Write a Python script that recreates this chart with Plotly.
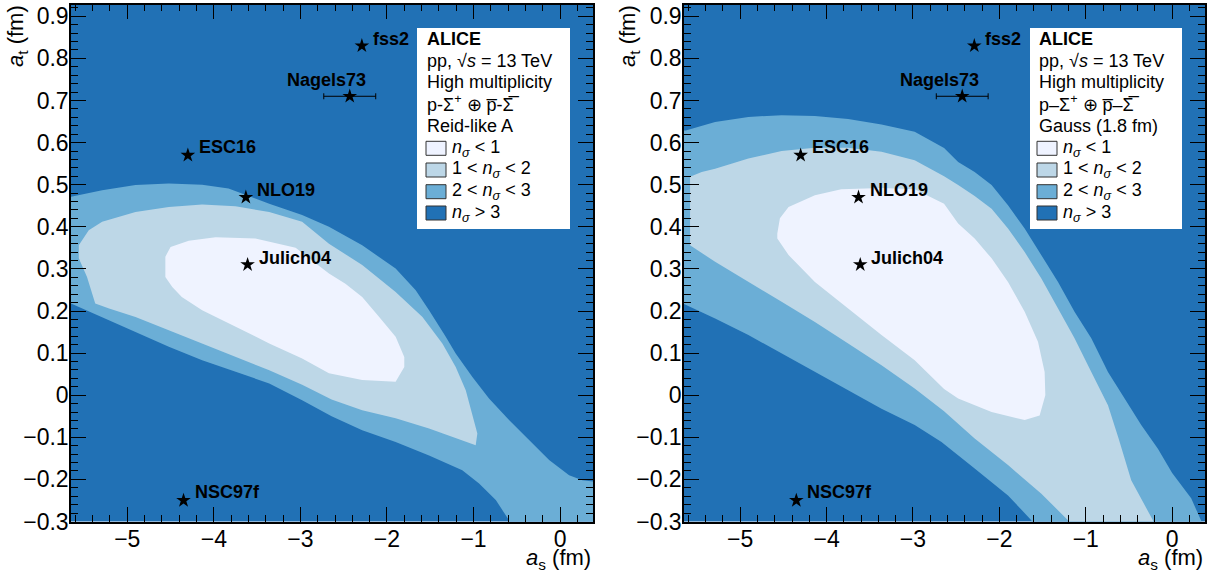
import plotly.graph_objects as go

# ---------------- data ----------------
model_names = ["fss2", "Nagels73", "ESC16", "NLO19", "Julich04", "NSC97f"]
model_as = [-2.29, -2.43, -4.30, -3.63, -3.61, -4.35]
model_at = [0.83, 0.71, 0.57, 0.47, 0.31, -0.25]
model_as_err = [0.0, 0.30, 0.0, 0.0, 0.0, 0.0]

# Reid-like A  (left panel) contour boundaries (a_s, a_t)
reid_n3_as = [-6.0, -5.66, -5.29, -4.905, -4.52, -4.135, -3.83, -3.63, -3.36, -2.98, -2.67, -2.286, -1.90,
              -1.668, -1.514, -1.321, -1.206, -1.013, -0.821, -0.590, -0.358, -0.127, 0.104, 0.258, 0.6,
              0.6, -0.55, -0.59, -0.743, -0.936, -1.13, -1.514, -1.90, -2.286, -2.64, -2.98, -3.36, -3.75,
              -4.135, -4.52, -4.905, -5.29, -5.66, -6.0]
reid_n3_at = [0.46, 0.471, 0.487, 0.499, 0.503, 0.500, 0.491, 0.475, 0.455, 0.428, 0.400, 0.356, 0.301,
              0.249, 0.202, 0.139, 0.099, 0.043, -0.008, -0.059, -0.107, -0.154, -0.190, -0.202, -0.21,
              -0.4, -0.4, -0.297, -0.249, -0.210, -0.178, -0.143, -0.111, -0.083, -0.05, -0.012, 0.028, 0.055,
              0.083, 0.115, 0.150, 0.186, 0.218, 0.25]
reid_n2_as = [-5.56, -5.56, -5.445, -5.29, -4.905, -4.52, -4.135, -3.75, -3.36, -2.98, -2.67, -2.286, -1.90,
              -1.59, -1.36, -1.206, -1.09, -1.013, -0.956, -0.975, -1.13, -1.514, -1.90, -2.286, -2.64,
              -2.98, -3.36, -3.75, -4.135, -4.52, -4.905, -5.21, -5.37, -5.465]
reid_n2_at = [0.325, 0.356, 0.392, 0.412, 0.435, 0.447, 0.453, 0.449, 0.435, 0.412, 0.360, 0.309, 0.245,
              0.186, 0.123, 0.067, 0.012, -0.044, -0.091, -0.119, -0.108, -0.079, -0.055, -0.036, -0.01,
              0.025, 0.059, 0.091, 0.123, 0.154, 0.186, 0.206, 0.218, 0.281]
reid_n1_as = [-4.56, -4.56, -4.50, -4.29, -3.98, -3.52, -3.055, -2.67, -2.48, -2.286, -2.09, -1.90, -1.80,
              -1.80, -1.90, -2.286, -2.67, -2.98, -3.36, -3.75, -4.135, -4.37, -4.48]
reid_n1_at = [0.281, 0.329, 0.352, 0.367, 0.375, 0.372, 0.350, 0.289, 0.265, 0.233, 0.186, 0.139, 0.091,
              0.067, 0.032, 0.036, 0.052, 0.087, 0.123, 0.162, 0.202, 0.233, 0.257]

# Gauss (1.8 fm)  (right panel) contour boundaries
gauss_n3_as = [-6.0, -5.63, -5.29, -4.905, -4.52, -4.135, -3.75, -3.364, -2.98, -2.64, -2.477, -2.286, -2.09,
               -1.90, -1.707, -1.514, -1.321, -1.13, -0.936, -0.743, -0.551, -0.358, -0.165, 0.0, 0.22, 0.34,
               0.4, -1.6, -1.63, -1.90, -2.286, -2.67, -2.98, -3.364, -3.75, -4.135, -4.52, -4.905, -5.29,
               -5.63, -6.0]
gauss_n3_at = [0.62, 0.629, 0.649, 0.661, 0.665, 0.663, 0.656, 0.643, 0.626, 0.587, 0.554, 0.530, 0.499,
               0.451, 0.396, 0.333, 0.269, 0.198, 0.135, 0.055, -0.008, -0.071, -0.127, -0.185, -0.245, -0.30,
               -0.4, -0.4, -0.297, -0.238, -0.174, -0.111, -0.071, -0.032, 0.012, 0.055, 0.099, 0.143, 0.182,
               0.214, 0.25]
gauss_n2_as = [-5.58, -5.445, -5.29, -4.905, -4.52, -4.135, -3.75, -3.364, -2.98, -2.64, -2.477, -2.286,
               -2.09, -1.90, -1.707, -1.514, -1.321, -1.13, -0.936, -0.743, -0.62, -0.474, -0.223, -0.15,
               -1.1, -1.206, -1.514, -1.90, -2.286, -2.64, -2.98, -3.364, -3.75, -4.135, -4.52, -4.905,
               -5.29, -5.58]
gauss_n2_at = [0.519, 0.530, 0.538, 0.562, 0.580, 0.588, 0.588, 0.578, 0.558, 0.520, 0.499, 0.473,
               0.443, 0.396, 0.340, 0.277, 0.206, 0.135, 0.055, -0.024, -0.103, -0.202, -0.297, -0.4,
               -0.4, -0.297, -0.234, -0.166, -0.103, -0.038, 0.016, 0.071, 0.123, 0.174, 0.222, 0.269,
               0.317, 0.356]
gauss_n1_as = [-4.57, -4.57, -4.54, -4.44, -4.135, -3.83, -3.364, -2.98, -2.64, -2.477, -2.286, -2.09, -1.90,
               -1.707, -1.553, -1.476, -1.468, -1.534, -1.707, -2.09, -2.477, -2.64, -2.98, -3.364, -3.75,
               -4.135, -4.44]
gauss_n1_at = [0.372, 0.384, 0.420, 0.447, 0.475, 0.489, 0.492, 0.489, 0.455, 0.408, 0.372, 0.325, 0.269,
               0.198, 0.127, 0.055, 0.0, -0.048, -0.059, -0.040, -0.008, 0.015, 0.083, 0.143, 0.206,
               0.269, 0.333]

x_tick_vals = [-5, -4, -3, -2, -1, 0]
y_tick_vals = [-0.3, -0.2, -0.1, 0, 0.1, 0.2, 0.3, 0.4, 0.5, 0.6, 0.7, 0.8, 0.9]

legend_labels = ["<i>n</i><sub><i>σ</i></sub> < 1", "1 < <i>n</i><sub><i>σ</i></sub> < 2",
                 "2 < <i>n</i><sub><i>σ</i></sub> < 3", "<i>n</i><sub><i>σ</i></sub> > 3"]
left_header = ["<b>ALICE</b>", "pp, √<i>s</i> = 13 TeV", "High multiplicity",
               "p-Σ<sup>+</sup> ⊕ p\u0305-Σ\u0305", "Reid-like A"]
right_header = ["<b>ALICE</b>", "pp, √<i>s</i> = 13 TeV", "High multiplicity",
                "p–Σ<sup>+</sup> ⊕ p\u0305–Σ\u0305", "Gauss (1.8 fm)"]

# ---------------- style ----------------
C_DARK = "#2171b5"
C_MID = "#6baed6"
C_LIGHT = "#bdd7e7"
C_WHITE = "#eff3ff"
FONT = "Liberation Sans, Arial, sans-serif"
W, H = 1217, 577


def px(x):
    return x / W


def py(y):
    return 1 - y / H


XR = [-5.65, 0.38]
YR = [-0.30, 0.928]
panels = [
    dict(xa="x", ya="y", dom=[px(71), px(593)],
         regions=[(reid_n3_as, reid_n3_at, C_MID), (reid_n2_as, reid_n2_at, C_LIGHT),
                  (reid_n1_as, reid_n1_at, C_WHITE)],
         header=left_header, box=(417, 570), textx=425, swx=426, entx=450, ytitle_x=17),
    dict(xa="x2", ya="y2", dom=[px(684), px(1205)],
         regions=[(gauss_n3_as, gauss_n3_at, C_MID), (gauss_n2_as, gauss_n2_at, C_LIGHT),
                  (gauss_n1_as, gauss_n1_at, C_WHITE)],
         header=right_header, box=(1030, 1182), textx=1037, swx=1037, entx=1061, ytitle_x=629),
]

label_style = {
    "fss2": dict(xanchor="left", xshift=9, yshift=7),
    "Nagels73": dict(xanchor="center", xshift=-23, yshift=16),
    "ESC16": dict(xanchor="left", xshift=9, yshift=8),
    "NLO19": dict(xanchor="left", xshift=9, yshift=7),
    "Julich04": dict(xanchor="left", xshift=9, yshift=7),
    "NSC97f": dict(xanchor="left", xshift=9, yshift=8),
}

fig = go.Figure()
annotations = []
shapes = []

for i, p in enumerate(panels):
    for xs, ys, col in p["regions"]:
        fig.add_trace(go.Scatter(x=xs, y=ys, xaxis=p["xa"], yaxis=p["ya"], mode="lines",
                                 fill="toself", fillcolor=col, line=dict(width=0, color=col),
                                 hoverinfo="skip", showlegend=False))
    idx = [k for k in range(len(model_names)) if model_as_err[k] == 0]
    fig.add_trace(go.Scatter(x=[model_as[k] for k in idx], y=[model_at[k] for k in idx],
                             xaxis=p["xa"], yaxis=p["ya"], mode="markers",
                             marker=dict(symbol="star", size=11, color="black"),
                             hoverinfo="skip", showlegend=False))
    idx_e = [k for k in range(len(model_names)) if model_as_err[k] > 0]
    fig.add_trace(go.Scatter(x=[model_as[k] for k in idx_e], y=[model_at[k] for k in idx_e],
                             xaxis=p["xa"], yaxis=p["ya"], mode="markers",
                             marker=dict(symbol="star", size=11, color="black"),
                             error_x=dict(type="data", array=[model_as_err[k] for k in idx_e],
                                          color="black", thickness=1, width=3),
                             hoverinfo="skip", showlegend=False))
    for k, name in enumerate(model_names):
        st = label_style[name]
        annotations.append(dict(x=model_as[k], y=model_at[k], xref=p["xa"], yref=p["ya"],
                                text="<b>%s</b>" % name, showarrow=False,
                                xanchor=st["xanchor"], yanchor="middle",
                                xshift=st["xshift"], yshift=st["yshift"],
                                font=dict(family=FONT, size=18, color="black")))
    bx0, bx1 = p["box"]
    shapes.append(dict(type="rect", xref="paper", yref="paper", x0=px(bx0), x1=px(bx1),
                       y0=py(229), y1=py(28), fillcolor="white", line=dict(width=0), layer="above"))
    head_y = [39, 60.5, 82, 103.5, 126]
    for t, yy in zip(p["header"], head_y):
        annotations.append(dict(x=px(p["textx"]), y=py(yy), xref="paper", yref="paper", text=t,
                                showarrow=False, xanchor="left", yanchor="middle",
                                font=dict(family=FONT, size=18, color="black")))
    ent_y = [148.3, 170, 191.7, 213]
    for t, yy, col in zip(legend_labels, ent_y, [C_WHITE, C_LIGHT, C_MID, C_DARK]):
        shapes.append(dict(type="rect", xref="paper", yref="paper", x0=px(p["swx"]),
                           x1=px(p["swx"] + 20), y0=py(yy + 7), y1=py(yy - 7), fillcolor=col,
                           line=dict(width=1, color="#333333"), layer="above"))
        annotations.append(dict(x=px(p["entx"]), y=py(yy), xref="paper", yref="paper", text=t,
                                showarrow=False, xanchor="left", yanchor="middle",
                                font=dict(family=FONT, size=18, color="black")))
    annotations.append(dict(x=p["dom"][1], y=py(559), xref="paper", yref="paper",
                            text="<i>a</i><sub>s</sub> (fm)", showarrow=False, xanchor="right",
                            yanchor="middle", font=dict(family=FONT, size=22, color="black")))
    annotations.append(dict(x=px(p["ytitle_x"]), y=py(3), xref="paper", yref="paper",
                            text="<i>a</i><sub>t</sub> (fm)", showarrow=False, textangle=-90,
                            xanchor="center", yanchor="top",
                            font=dict(family=FONT, size=22, color="black")))

axis_common = dict(showgrid=False, zeroline=False, showline=True, linecolor="black", linewidth=1.5,
                   mirror="allticks", ticks="inside", ticklen=15, tickwidth=1, tickcolor="black",
                   automargin=False, ticklabelstandoff=-4,
                   tickfont=dict(family=FONT, size=23, color="black"))
layout = dict(width=W, height=H, margin=dict(l=0, r=0, t=0, b=0), paper_bgcolor="white",
              plot_bgcolor=C_DARK, showlegend=False, annotations=annotations, shapes=shapes,
              font=dict(family=FONT))
for i, p in enumerate(panels):
    sx = "" if i == 0 else "2"
    layout["xaxis" + sx] = dict(axis_common, domain=p["dom"], range=XR, anchor="y" + sx,
                                tickmode="array", tickvals=x_tick_vals,
                                minor=dict(ticks="inside", ticklen=7, dtick=0.2, tick0=0,
                                           tickcolor="black", tickwidth=1))
    layout["yaxis" + sx] = dict(axis_common, domain=[py(521.5), py(4.5)], range=YR, anchor="x" + sx,
                                tickmode="array", tickvals=y_tick_vals,
                                minor=dict(ticks="inside", ticklen=7, dtick=0.02, tick0=0,
                                           tickcolor="black", tickwidth=1))
fig.update_layout(**layout)
fig.write_html("out.html", config={"displayModeBar": False},
               post_script="document.body.style.margin='0px';"
                           "document.body.style.overflow='hidden';")
